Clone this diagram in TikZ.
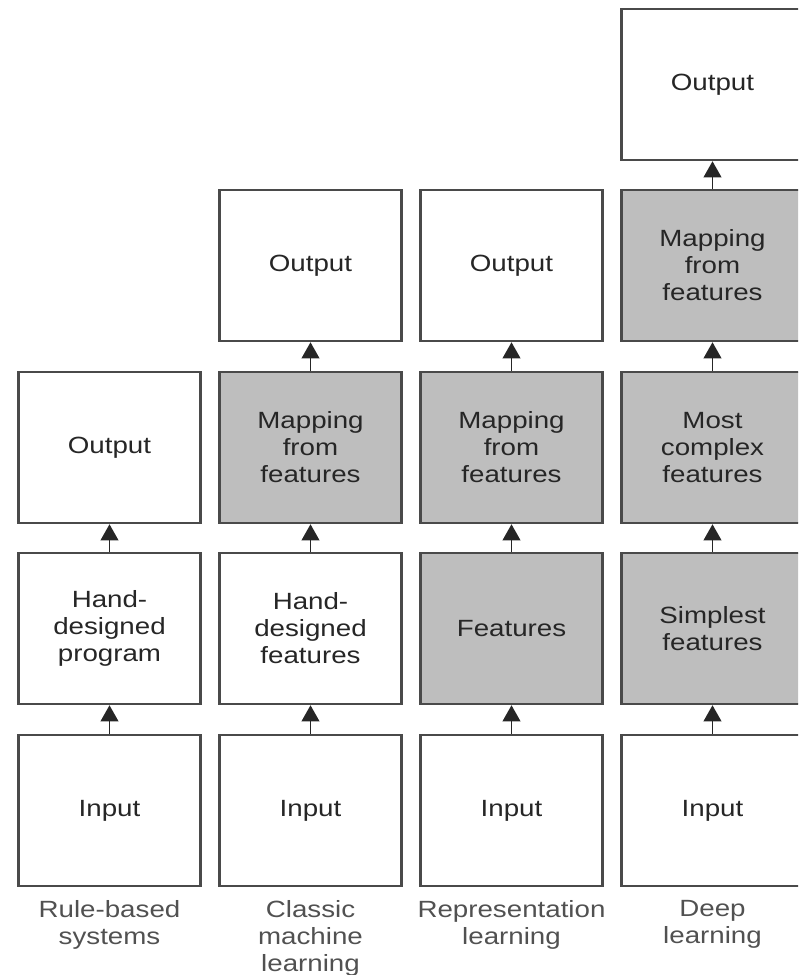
\documentclass[tikz,border=0pt]{standalone}
\usepackage{fontspec}
\setmainfont{Liberation Sans}[FakeStretch=1.18]
\usetikzlibrary{arrows.meta}
\definecolor{edge}{HTML}{4A4A4A}
\definecolor{shade}{HTML}{BEBEBE}
\definecolor{ink}{HTML}{262626}
\begin{document}
\begin{tikzpicture}[x=0.025cm, y=-0.025cm,
    blk/.style={draw=edge, line width=1.6pt, fill=white, minimum width=4.55cm, minimum height=3.78cm,
      inner sep=0pt, align=center, text=ink, font=\fontsize{16.7}{19.2}\selectfont},
    grayblk/.style={blk, fill=shade},
    arr/.style={draw=black!85, line width=1.2pt, -{Triangle[length=0.4cm, width=0.44cm]}},
    lab/.style={anchor=north, align=center, inner sep=0pt, text=ink!80, font=\fontsize{16.7}{19.2}\selectfont}]
  \useasboundingbox (0,0) rectangle (798,975);
  \clip (0,0) rectangle (798,975);
  % rule-based systems
  \node[blk] (in1) at (109.5,810.5) {Input};
  \node[blk] (hand1) at (109.5,628.5) {Hand-\\designed\\program};
  \node[blk] (out1) at (109.5,447.5) {Output};
  \draw[arr] (in1.north) -- (hand1.south);
  \draw[arr] (hand1.north) -- (out1.south);
  \node[lab] (lab1) at (109.5,900) {Rule-based\\systems};
  % classic machine learning
  \node[blk] (in2) at (310.5,810.5) {Input};
  \node[blk] (hand2) at (310.5,628.5) {Hand-\\designed\\features};
  \node[grayblk] (map2) at (310.5,447.5) {Mapping\\from\\features};
  \node[blk] (out2) at (310.5,265.5) {Output};
  \draw[arr] (in2.north) -- (hand2.south);
  \draw[arr] (hand2.north) -- (map2.south);
  \draw[arr] (map2.north) -- (out2.south);
  \node[lab] (lab2) at (310.5,900) {Classic\\machine\\learning};
  % representation learning
  \node[blk] (in3) at (511.5,810.5) {Input};
  \node[grayblk] (feat3) at (511.5,628.5) {Features};
  \node[grayblk] (map3) at (511.5,447.5) {Mapping\\from\\features};
  \node[blk] (out3) at (511.5,265.5) {Output};
  \draw[arr] (in3.north) -- (feat3.south);
  \draw[arr] (feat3.north) -- (map3.south);
  \draw[arr] (map3.north) -- (out3.south);
  \node[lab] (lab3) at (511.5,900) {Representation\\learning};
  % deep learning
  \node[blk] (in4) at (712.5,810.5) {Input};
  \node[grayblk] (simp4) at (712.5,628.5) {Simplest\\features};
  \node[grayblk] (cplx4) at (712.5,447.5) {Most\\complex\\features};
  \node[grayblk] (map4) at (712.5,265.5) {Mapping\\from\\features};
  \node[blk] (out4) at (712.5,84.5) {Output};
  \draw[arr] (in4.north) -- (simp4.south);
  \draw[arr] (simp4.north) -- (cplx4.south);
  \draw[arr] (cplx4.north) -- (map4.south);
  \draw[arr] (map4.north) -- (out4.south);
  \node[lab] (lab4) at (712.5,900) {Deep\\learning};
\end{tikzpicture}
\end{document}
